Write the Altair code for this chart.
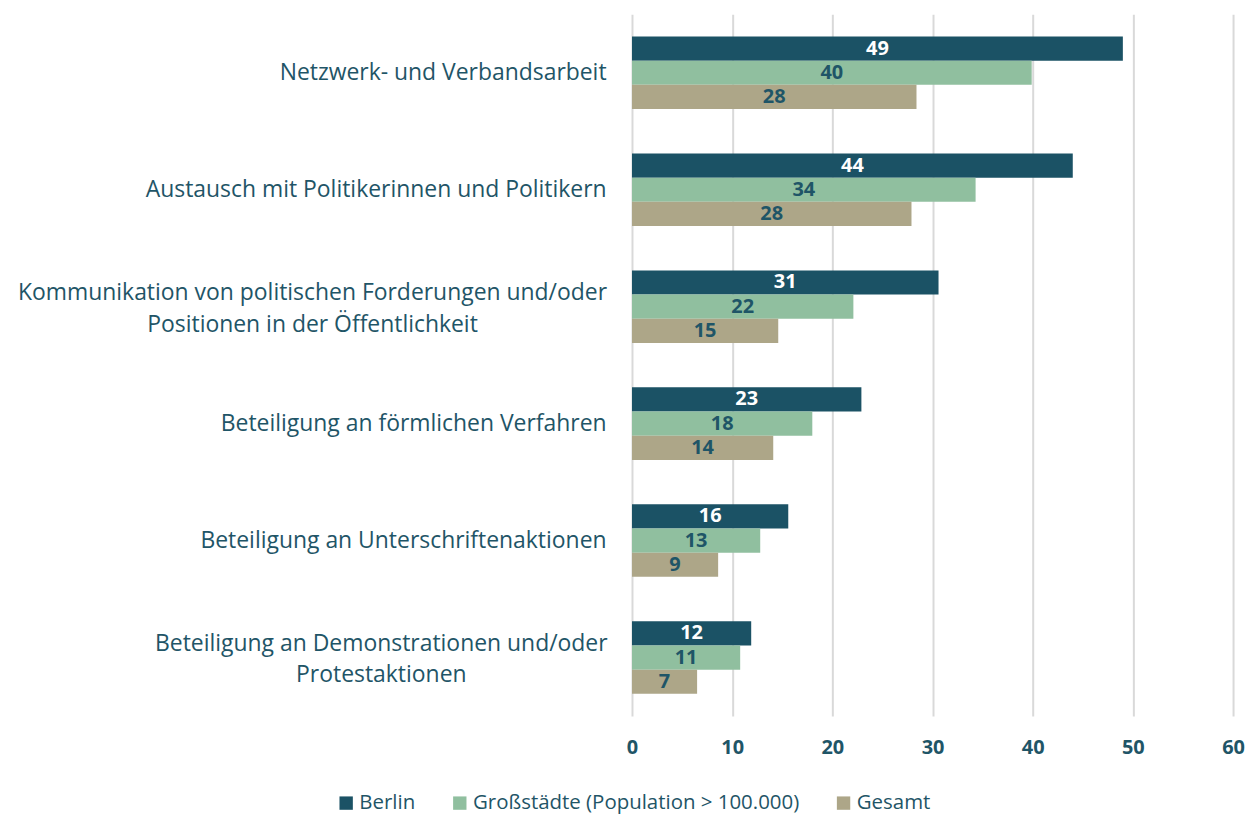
import altair as alt
import pandas as pd

categories = [
    "Netzwerk- und Verbandsarbeit",
    "Austausch mit Politikerinnen und Politikern",
    "Kommunikation von politischen Forderungen und/oder|Positionen in der Öffentlichkeit",
    "Beteiligung an förmlichen Verfahren",
    "Beteiligung an Unterschriftenaktionen",
    "Beteiligung an Demonstrationen und/oder|Protestaktionen",
]
series = ["Berlin", "Großstädte (Population > 100.000)", "Gesamt"]
berlin = [49.0, 44.0, 30.6, 22.9, 15.6, 11.9]
grossstaedte = [39.9, 34.3, 22.1, 18.0, 12.8, 10.8]
gesamt = [28.4, 27.9, 14.6, 14.1, 8.6, 6.5]
colors = ["#1B5265", "#90BF9F", "#ADA688"]

rows = []
for vals, s in zip([berlin, grossstaedte, gesamt], series):
    for c, v in zip(categories, vals):
        rows.append({"category": c, "series": s, "value": v})
df = pd.DataFrame(rows)

FONT = "Open Sans"
TXT = "#1F5567"

multi_test = "indexof(datum.value, '|') >= 0"
y_enc = alt.Y(
    "category:N",
    sort=categories,
    scale=alt.Scale(paddingInner=0.38, paddingOuter=0.19),
    axis=alt.Axis(
        title=None,
        ticks=False,
        domain=False,
        labelExpr="split(datum.label, '|')",
        labelFontSize=23,
        labelFont=FONT,
        labelColor=TXT,
        labelAlign={
            "condition": {"test": multi_test, "value": "center"},
            "value": "right",
        },
        labelPadding={
            "condition": [
                {"test": "indexof(datum.value, 'Kommunikation') === 0", "value": 321},
                {"test": "indexof(datum.value, 'Beteiligung an Demo') === 0", "value": 252},
            ],
            "value": 26,
        },
        labelOffset={
            "condition": {"test": multi_test, "value": -14},
            "value": 0,
        },
        labelLineHeight=32,
        labelLimit=800,
    ),
)
yoff = alt.YOffset("series:N", sort=series)

bars = alt.Chart(df).mark_bar().encode(
    x=alt.X(
        "value:Q",
        scale=alt.Scale(domain=[0, 60]),
        axis=alt.Axis(
            title=None,
            values=[0, 10, 20, 30, 40, 50, 60],
            ticks=False,
            domain=False,
            grid=True,
            gridColor="#D9D9D9",
            gridWidth=2,
            labelFontSize=20,
            labelFont=FONT,
            labelFontWeight="bold",
            labelColor=TXT,
            labelPadding=22,
            labelFlush=False,
        ),
    ),
    y=y_enc,
    yOffset=yoff,
    color=alt.Color(
        "series:N",
        sort=series,
        scale=alt.Scale(domain=series, range=colors),
        legend=alt.Legend(
            title=None,
            orient="none",
            legendX=-297,
            legendY=781,
            direction="horizontal",
            symbolType="square",
            symbolSize=180,
            symbolStrokeWidth=0,
            labelFontSize=20.5,
            labelFont=FONT,
            labelColor=TXT,
            labelLimit=600,
            labelOffset=3,
            columnPadding=34,
        ),
    ),
)

labels = alt.Chart(df).transform_calculate(
    mid="datum.value / 2"
).mark_text(
    font=FONT, fontSize=20, fontWeight="bold", baseline="middle", align="center"
).encode(
    x="mid:Q",
    y=alt.Y("category:N", sort=categories),
    yOffset=yoff,
    text=alt.Text("value:Q", format=".0f"),
    color=alt.condition(
        "datum.series === 'Berlin'", alt.value("white"), alt.value(TXT)
    ),
)

chart = (
    alt.layer(bars, labels)
    .properties(width=603, height=704, padding={"left": 9, "top": 5, "right": 4, "bottom": 0})
    .configure_view(stroke=None)
)

chart.save("out.html", embed_options={"renderer": "svg", "actions": False})
